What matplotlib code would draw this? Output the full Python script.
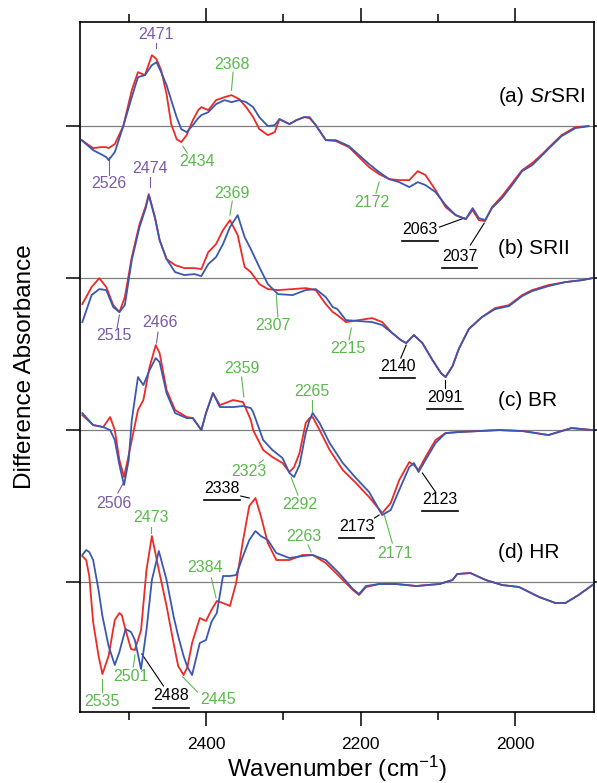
import matplotlib.pyplot as plt

plt.rcParams['font.family'] = ['Liberation Sans', 'DejaVu Sans']
plt.rcParams['mathtext.fontset'] = 'custom'
plt.rcParams['mathtext.rm'] = 'Liberation Sans'
plt.rcParams['mathtext.it'] = 'Liberation Sans:italic'

RED = '#ec2a26'
BLUE = '#3a58b0'
PURPLE = '#7b5aa6'
GREEN = '#5cb84e'

# (a) SrSRI
a_wn = [2561, 2546, 2536, 2529, 2526, 2518, 2507, 2496, 2488, 2479, 2470, 2464, 2458, 2451,
        2445, 2438, 2432, 2425, 2417, 2410, 2406, 2397, 2387, 2376, 2367, 2357, 2348, 2339,
        2331, 2320, 2311, 2305, 2292, 2283, 2273, 2266, 2258, 2245, 2232, 2215, 2202, 2189,
        2176, 2163, 2150, 2137, 2126, 2116, 2103, 2090, 2077, 2064, 2055, 2047, 2039, 2030,
        2017, 2004, 1991, 1978, 1965, 1952, 1940, 1922, 1905]
a_red = [-14, -22, -21, -21, -22, -18, 0, 36, 54, 51, 71, 67, 56, 32,
         2, -13, -16, -9, 6, 16, 19, 16, 26, 29, 31, 27, 19, 9,
         -3, -9, -6, 7, 2, 6, 9, 8, 1, -14, -15, -21, -31, -41,
         -48, -53, -54, -54, -45, -49, -64, -81, -89, -93, -84, -94, -95, -81,
         -70, -57, -44, -37, -28, -18, -9, -1, 0]
a_blue = [-14, -24, -28, -31, -34, -26, 0, 29, 49, 51, 61, 64, 54, 41,
          26, 9, -3, -6, 1, 8, 11, 14, 22, 26, 24, 26, 24, 19,
          9, 0, 1, 7, 2, 6, 9, 9, 1, -14, -14, -20, -29, -38,
          -46, -53, -56, -61, -56, -59, -66, -79, -89, -93, -82, -92, -94, -82,
          -72, -59, -45, -39, -29, -19, -10, -2, 0]

# (b) SRII
b_wn = [2560, 2548, 2538, 2529, 2520, 2512, 2505, 2496, 2486, 2478, 2474, 2466, 2460, 2451,
        2440, 2428, 2415, 2406, 2397, 2387, 2378, 2369, 2359, 2350, 2342, 2331, 2320, 2307,
        2288, 2271, 2258, 2245, 2236, 2230, 2219, 2202, 2185, 2172, 2159, 2148, 2141, 2131,
        2120, 2107, 2096, 2090, 2081, 2073, 2060, 2043, 2026, 2008, 1991, 1978, 1957, 1935,
        1913, 1900]
b_red = [-26, -9, 0, -9, -27, -34, -19, 21, 54, 72, 84, 61, 38, 19,
         13, 10, 10, 9, 26, 34, 48, 58, 43, 11, 6, -6, -11, -12,
         -11, -10, -12, -26, -34, -37, -44, -42, -40, -44, -55, -62, -65, -57,
         -65, -82, -95, -99, -88, -71, -51, -39, -30, -27, -17, -12, -7, -4,
         -2, 0]
b_blue = [-44, -17, -11, -12, -29, -34, -27, 18, 51, 70, 83, 60, 38, 19,
          6, 3, 4, 2, 14, 21, 34, 51, 63, 41, 29, 11, -6, -16,
          -17, -12, -11, -19, -29, -31, -42, -43, -44, -47, -55, -62, -65, -57,
          -65, -82, -95, -99, -88, -71, -51, -39, -31, -28, -18, -13, -8, -4,
          -2, 0]

# (c) BR
c_wn = [2560, 2546, 2533, 2524, 2518, 2512, 2506, 2500, 2496, 2488, 2481, 2473, 2465, 2460,
        2451, 2440, 2425, 2417, 2406, 2400, 2391, 2382, 2365, 2352, 2342, 2339, 2326, 2314,
        2301, 2292, 2286, 2279, 2271, 2266, 2262, 2253, 2240, 2223, 2206, 2189, 2172, 2161,
        2150, 2137, 2131, 2125, 2116, 2103, 2090, 2073, 2021, 1990, 1957, 1927, 1900]
c_red = [15, 5, 3, 13, 0, -30, -47, -25, -10, 20, 30, 63, 85, 77,
         40, 20, 13, 12, 0, 17, 37, 25, 30, 28, 10, 0, -20, -27,
         -33, -42, -37, -23, 7, 12, 13, 0, -20, -40, -53, -67, -83, -73,
         -50, -32, -35, -40, -27, -10, -3, -2, 0, -1, -5, 2, 0]
c_blue = [17, 5, 3, 0, -10, -35, -55, -30, 10, 53, 45, 60, 72, 68,
          37, 17, 12, 12, 0, 17, 37, 23, 23, 24, 22, 18, -10, -20,
          -28, -43, -47, -35, -3, 10, 17, 7, -13, -33, -48, -62, -85, -80,
          -60, -37, -33, -42, -30, -13, -3, -2, 0, -1, -5, 2, 0]

# (d) HR
d_wn = [2560, 2555, 2551, 2546, 2539, 2534, 2526, 2518, 2512, 2509, 2504, 2497, 2492, 2484,
        2477, 2470, 2461, 2451, 2442, 2436, 2429, 2424, 2418, 2408, 2400, 2393, 2386, 2378,
        2369, 2361, 2352, 2344, 2336, 2329, 2320, 2309, 2292, 2275, 2262, 2245, 2228, 2210,
        2202, 2193, 2176, 2154, 2128, 2098, 2081, 2075, 2058, 2038, 2017, 1995, 1969, 1948,
        1935, 1918, 1900]
d_red = [26, 22, 6, -40, -74, -92, -74, -38, -31, -33, -48, -67, -68, -48,
         12, 46, 12, -24, -61, -84, -93, -85, -61, -36, -39, -28, -19, -21,
         -24, -1, 42, 76, 84, 66, 39, 22, 22, 27, 27, 19, 6, -8,
         -13, -5, -2, -2, -4, -2, 2, 8, 9, 2, -3, -5, -15, -21,
         -21, -13, -3]
d_blue = [27, 32, 30, 22, -8, -34, -64, -83, -70, -61, -47, -50, -58, -87,
          -48, 2, 31, 2, -34, -54, -74, -85, -93, -61, -58, -40, -31, 6,
          6, 7, 26, 42, 51, 46, 42, 29, 24, 26, 27, 22, 9, -7,
          -12, -4, -2, -2, -4, -2, 2, 8, 9, 2, -3, -5, -15, -21,
          -21, -13, -3]

panels = [(a_wn, a_red, a_blue), (b_wn, b_red, b_blue),
          (c_wn, c_red, c_blue), (d_wn, d_red, d_blue)]
panel_names = ['(a) $\\mathit{Sr}$SRI', '(b) SRII', '(c) BR', '(d) HR']
offsets = [0, -152, -304, -456]

# label, colour, text x/y, leader start, leader end, underlined
peaks = [
    ('2471', PURPLE, 2465, 92, (2465, 83), (2465, 78), False),
    ('2368', GREEN, 2366, 62, (2365, 54), (2367, 36), False),
    ('2526', PURPLE, 2526, -57, (2525, -49), (2525, -31), False),
    ('2434', GREEN, 2412, -35, (2424, -27), (2430, -20), False),
    ('2172', GREEN, 2185, -76, (2180, -67), (2176, -56), False),
    ('2063', 'black', 2123, -103, (2098, -101), (2066, -92), True),
    ('2037', 'black', 2072, -130, (2058, -119), (2040, -97), True),
    ('2474', PURPLE, 2472, -42, (2472, -51), (2472, -61), False),
    ('2369', GREEN, 2366, -67, (2366, -75), (2369, -89), False),
    ('2515', PURPLE, 2519, -209, (2515, -202), (2512, -189), False),
    ('2307', GREEN, 2313, -199, (2307, -191), (2309, -169), False),
    ('2215', GREEN, 2217, -222, (2215, -214), (2212, -202), False),
    ('2140', 'black', 2152, -240, (2148, -232), (2141, -219), True),
    ('2091', 'black', 2091, -271, (2091, -262), (2091, -254), True),
    ('2466', PURPLE, 2460, -196, (2462, -206), (2464, -217), False),
    ('2359', GREEN, 2354, -242, (2354, -251), (2351, -271), False),
    ('2265', GREEN, 2263, -265, (2263, -274), (2263, -287), False),
    ('2506', PURPLE, 2519, -377, (2514, -367), (2507, -357), False),
    ('2323', GREEN, 2345, -345, (2331, -337), (2326, -334), False),
    ('2292', GREEN, 2278, -378, (2281, -369), (2290, -351), False),
    ('2173', 'black', 2205, -400, (2182, -392), (2176, -389), True),
    ('2171', GREEN, 2155, -427, (2159, -417), (2170, -387), False),
    ('2123', 'black', 2097, -373, (2103, -366), (2120, -347), True),
    ('2338', 'black', 2379, -362, (2355, -370), (2344, -372), True),
    ('2263', GREEN, 2274, -410, (2268, -419), (2264, -426), False),
    ('2473', GREEN, 2471, -391, (2471, -401), (2471, -407), False),
    ('2384', GREEN, 2401, -441, (2393, -452), (2387, -472), False),
    ('2501', GREEN, 2497, -551, (2494, -541), (2492, -529), False),
    ('2488', 'black', 2445, -570, (2455, -560), (2483, -528), True),
    ('2535', GREEN, 2535, -576, (2534, -553), (2534, -566), False),
    ('2445', GREEN, 2385, -574, (2430, -551), (2411, -566), False),
]

fig = plt.figure(figsize=(5.97, 7.83), dpi=100)
ax = fig.add_axes([0.134, 0.0907, 0.861, 0.881])

for (wn, red, blue), off, name in zip(panels, offsets, panel_names):
    ax.axhline(off, color='#7f7f7f', lw=0.9, zorder=1)
    ax.plot(wn, [v + off for v in red], color=RED, lw=1.3, zorder=2)
    ax.plot(wn, [v + off for v in blue], color=BLUE, lw=1.3, zorder=3)
    ax.text(2022, off + 30, name, fontsize=15, ha='left', va='center')

for lab, col, tx, ty, p0, p1, ul in peaks:
    ax.text(tx, ty, lab, color=col, fontsize=11.5, ha='center', va='center')
    ax.plot([p0[0], p1[0]], [p0[1], p1[1]], color=col, lw=0.8)
    if ul:
        ax.plot([tx + 23, tx - 23], [ty - 12, ty - 12], color='black', lw=1.2)

ax.set_xlim(2563, 1898)
ax.set_ylim(-586, 104)
ax.set_xticks([2400, 2200, 2000])
ax.set_xticks([2500, 2300, 2100], minor=True)
ax.set_yticks(offsets)
ax.set_yticklabels([])
ax.tick_params(axis='x', which='both', direction='out', top=True, labelsize=12.5, pad=8)
ax.tick_params(axis='x', which='major', length=10, width=1.1)
ax.tick_params(axis='x', which='minor', length=5.5, width=1.1)
ax.tick_params(axis='y', direction='out', right=True, length=10, width=1.1)
for s in ax.spines.values():
    s.set_linewidth(1.2)

ax.set_xlabel('Wavenumber (cm$^{-1}$)', fontsize=17.5, labelpad=1)
ax.set_ylabel('Difference Absorbance', fontsize=17.5, labelpad=18)

plt.savefig('out.png', dpi=100)
